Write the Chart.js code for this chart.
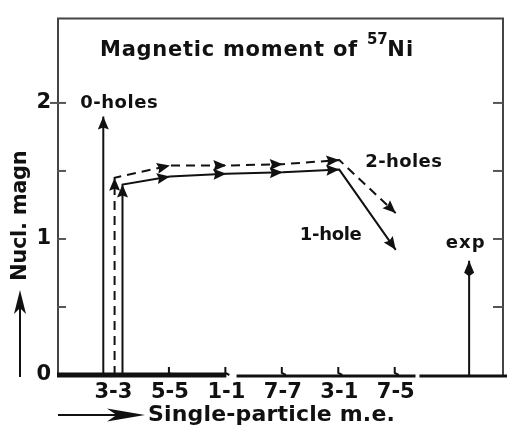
<!DOCTYPE html>
<html><head><meta charset="utf-8">
<script src="https://cdn.jsdelivr.net/npm/chart.js@4/dist/chart.umd.min.js"></script>
<style>html,body{margin:0;padding:0;background:#fff;}#wrap{width:507px;height:428px;}</style>
</head><body><div id="wrap"><canvas id="c" width="507" height="428"></canvas></div>
<script>
// ---- data ----
const categories = ['3-3', '5-5', '1-1', '7-7', '3-1', '7-5'];
const categoryX = [1, 2, 3, 4, 5, 6];
const oneHoleX = [1.16, 1.16, 2, 3, 4, 5, 6];
const oneHoleY = [0, 1.40, 1.46, 1.48, 1.49, 1.51, 0.92];
const twoHolesX = [1.02, 1.02, 2, 3, 4, 5, 6];
const twoHolesY = [0, 1.45, 1.54, 1.54, 1.55, 1.58, 1.19];
const zeroHolesX = [0.82, 0.82];
const zeroHolesY = [0, 1.90];
const expX = [7.30, 7.30];
const expY = [0, 0.84];
const yTickValues = [0, 1, 2];
const yMinorTicks = [0.5, 1, 1.5, 2];

const FONT = "'DejaVu Sans', sans-serif";
const INK = '#111';
const pts = (xs, ys) => xs.map((x, i) => ({x, y: ys[i]}));

function arrowHead(ctx, x0, y0, x1, y1, len, half, notch) {
  const a = Math.atan2(y1 - y0, x1 - x0);
  ctx.save();
  ctx.translate(x1, y1); ctx.rotate(a);
  ctx.beginPath();
  ctx.moveTo(0, 0); ctx.lineTo(-len, -half); ctx.lineTo(-len * (notch || 0.85), 0); ctx.lineTo(-len, half);
  ctx.closePath(); ctx.fillStyle = INK; ctx.fill();
  ctx.restore();
}

// draw text fitted to a target width by letter spacing
function fitText(ctx, text, x, y, width, font) {
  ctx.font = font; ctx.letterSpacing = '0px';
  const n = [...text].length;
  const natural = ctx.measureText(text).width;
  const sp = Math.max(-0.3, Math.min(3, (width - natural) / n));
  ctx.letterSpacing = sp + 'px';
  ctx.fillText(text, x, y);
  const w = ctx.measureText(text).width;
  ctx.letterSpacing = '0px';
  return w;
}

const decor = {
  id: 'decor',
  beforeDatasetsDraw(chart) {
    const {ctx, chartArea: a, scales: {x, y}} = chart;
    ctx.save();
    ctx.strokeStyle = '#444'; ctx.lineWidth = 2;
    ctx.beginPath();
    ctx.moveTo(a.left + 1, a.bottom); ctx.lineTo(a.left + 1, a.top); ctx.lineTo(a.right, a.top); ctx.lineTo(a.right, a.bottom);
    ctx.stroke();
    ctx.lineWidth = 2; ctx.strokeStyle = '#555';
    yMinorTicks.forEach(v => {
      const py = y.getPixelForValue(v);
      ctx.beginPath(); ctx.moveTo(v === 2 ? a.left - 7 : a.left, py); ctx.lineTo(a.left + 9, py); ctx.stroke();
      ctx.beginPath(); ctx.moveTo(a.right - 10, py); ctx.lineTo(a.right, py); ctx.stroke();
    });
    const by = y.getPixelForValue(0);
    ctx.strokeStyle = INK; ctx.lineCap = 'butt';
    ctx.lineWidth = 5;
    ctx.beginPath(); ctx.moveTo(a.left, by); ctx.lineTo(x.getPixelForValue(3), by); ctx.stroke();
    ctx.lineWidth = 3;
    ctx.beginPath(); ctx.moveTo(x.getPixelForValue(3.18), by + 1); ctx.lineTo(x.getPixelForValue(6.35), by + 1); ctx.stroke();
    ctx.beginPath(); ctx.moveTo(x.getPixelForValue(6.42), by + 1); ctx.lineTo(a.right + 4, by + 1); ctx.stroke();
    ctx.lineWidth = 2;
    categoryX.slice(1).forEach(v => {
      const px = x.getPixelForValue(v);
      ctx.beginPath(); ctx.moveTo(px - 1, by - 8); ctx.lineTo(px - 1, by - 2); ctx.lineTo(px + 3, by); ctx.stroke();
    });
    ctx.restore();
  },
  afterDatasetsDraw(chart) {
    const {ctx, chartArea: a, scales: {x, y}} = chart;
    ctx.save();
    chart.data.datasets.forEach((ds, di) => {
      const meta = chart.getDatasetMeta(di);
      const diamond = ds.label === 'exp';
      for (let i = 1; i < meta.data.length; i++) {
        const p0 = meta.data[i - 1], p1 = meta.data[i];
        if (diamond) arrowHead(ctx, p0.x, p0.y, p1.x, p1.y, 12, 5, 1.3);
        else arrowHead(ctx, p0.x, p0.y, p1.x, p1.y, 13, 5.5);
      }
    });
    ctx.fillStyle = INK; ctx.textBaseline = 'middle'; ctx.textAlign = 'left';
    const lf = `bold 18px ${FONT}`;
    fitText(ctx, '0-holes', x.getPixelForValue(0.41), y.getPixelForValue(2.0), 78, lf);
    fitText(ctx, '2-holes', x.getPixelForValue(5.46), y.getPixelForValue(1.565), 77, lf);
    fitText(ctx, '1-hole', x.getPixelForValue(4.30), y.getPixelForValue(1.03), 60, lf);
    fitText(ctx, 'exp', x.getPixelForValue(7.24) - 20, y.getPixelForValue(0.97), 40, lf);
    // title with superscript
    ctx.textBaseline = 'alphabetic';
    const tf = `bold 21px ${FONT}`;
    const w1 = fitText(ctx, 'Magnetic moment of ', 100, 56, 266, tf);
    const w2 = fitText(ctx, '57', 100 + w1 + 1, 44, 19, `bold 15px ${FONT}`);
    fitText(ctx, 'Ni', 100 + w1 + 1 + w2, 56, 27, tf);
    // x title with arrow
    ctx.textBaseline = 'middle';
    fitText(ctx, 'Single-particle m.e.', 148, 415, 247, `bold 22px ${FONT}`);
    ctx.lineWidth = 2; ctx.strokeStyle = INK;
    ctx.beginPath(); ctx.moveTo(58, 415); ctx.lineTo(130, 415); ctx.stroke();
    arrowHead(ctx, 58, 415, 145, 415, 38, 6.5, 0.75);
    // y title with arrow
    ctx.save();
    ctx.translate(21, 281); ctx.rotate(-Math.PI / 2);
    fitText(ctx, 'Nucl. magn', 0, 0, 126, `bold 21px ${FONT}`);
    ctx.restore();
    ctx.beginPath(); ctx.moveTo(20, 377); ctx.lineTo(20, 300); ctx.stroke();
    arrowHead(ctx, 20, 377, 20, 290, 24, 6, 0.75);
    ctx.restore();
  }
};

const lineDs = (label, xs, ys, dash) => ({
  label, data: pts(xs, ys), showLine: true, borderColor: INK, borderWidth: 2,
  borderDash: dash, pointRadius: 0, tension: 0, fill: false
});

new Chart(document.getElementById('c'), {
  type: 'scatter',
  data: {
    datasets: [
      lineDs('0-holes', zeroHolesX, zeroHolesY, []),
      lineDs('1-hole', oneHoleX, oneHoleY, []),
      lineDs('2-holes', twoHolesX, twoHolesY, [9, 6]),
      lineDs('exp', expX, expY, [])
    ]
  },
  options: {
    responsive: false, animation: false, devicePixelRatio: 1,
    layout: {padding: {top: 13, right: 4, left: 0, bottom: 0}},
    plugins: {legend: {display: false}, tooltip: {enabled: false}, title: {display: false}},
    scales: {
      x: {
        type: 'linear', min: 0, max: 7.9,
        grid: {display: false, drawTicks: false}, border: {display: false},
        afterBuildTicks: s => { s.ticks = categoryX.map(v => ({value: v})); },
        afterFit: s => { s.height = 53; },
        ticks: {
          autoSkip: false, maxRotation: 0, padding: 5, color: INK,
          font: {family: FONT, size: 21, weight: 'bold'},
          callback: v => categories[categoryX.indexOf(v)] ?? ''
        }
      },
      y: {
        min: 0, max: 2.62,
        grid: {display: false, drawTicks: false}, border: {display: false},
        afterBuildTicks: s => { s.ticks = yTickValues.map(v => ({value: v})); },
        afterFit: s => { s.width = 57; },
        ticks: {padding: 6, color: INK, font: {family: FONT, size: 21, weight: 'bold'}}
      }
    }
  },
  plugins: [decor]
});
</script></body></html>
